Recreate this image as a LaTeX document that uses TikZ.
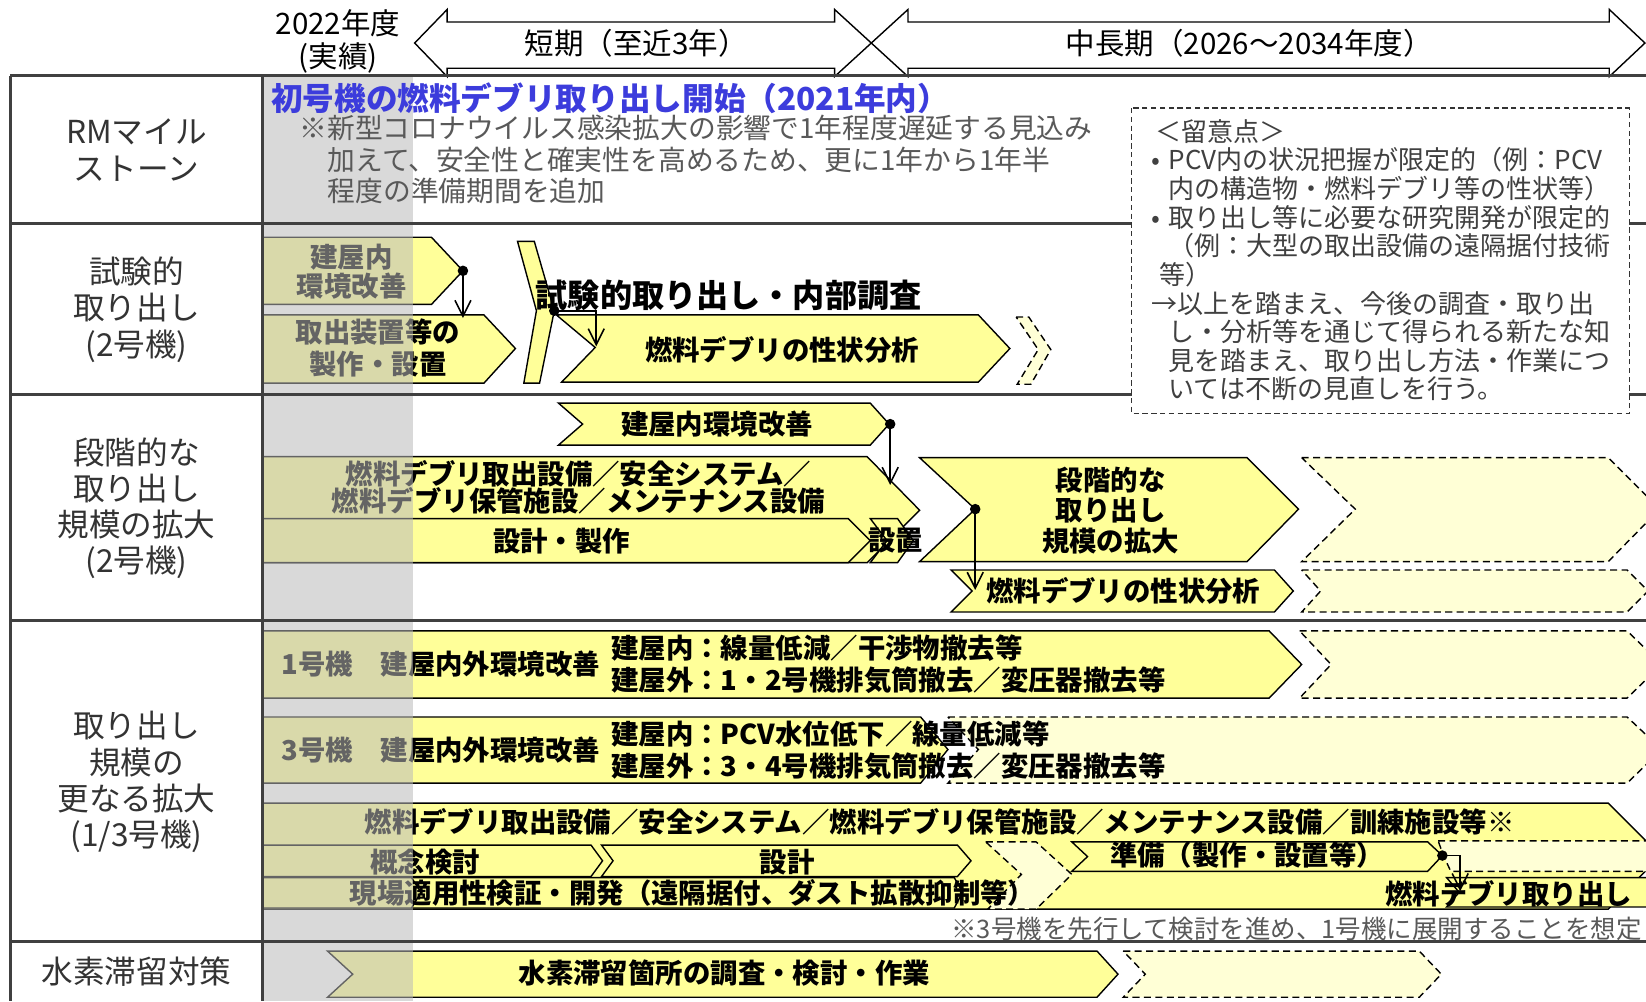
\documentclass[tikz,border=0pt]{standalone}
\usepackage{fontspec}
\setmainfont{Noto Sans CJK JP}
\usetikzlibrary{arrows.meta}

\definecolor{baryellow}{RGB}{255,255,153}
\definecolor{planyellow}{RGB}{255,255,214}
\definecolor{pastgray}{RGB}{185,185,185}
\definecolor{titleblue}{RGB}{60,60,220}
\definecolor{notegray}{RGB}{89,89,89}
\definecolor{rulegray}{RGB}{64,64,64}

\tikzset{
  bar/.style={draw=black, fill=baryellow, line width=0.8pt},
  planbar/.style={draw=black, fill=planyellow, line width=0.8pt, dash pattern=on 4pt off 2.5pt},
  bartext/.style={inner sep=0pt, font=\fontsize{15.6}{18}\selectfont\bfseries},
  rowlabel/.style={align=center, text=black!80, font=\fontsize{18}{20.6}\selectfont},
  hdrtext/.style={font=\fontsize{16.8}{19.5}\selectfont},
  hdrarrow/.style={draw=black, fill=white, line width=0.8pt},
  notetext/.style={anchor=west, inner sep=0pt, text=notegray, font=\fontsize{15.8}{18}\selectfont},
  caveat/.style={anchor=west, inner sep=0pt, text=black!75, font=\fontsize{14.8}{16}\selectfont},
  flow/.style={-{Straight Barb[length=3.2mm,width=3.2mm]}, line width=0.9pt},
  tablerule/.style={draw=rulegray, line width=1.4pt},
}

\begin{document}
\begin{tikzpicture}[x=0.021cm, y=-0.021cm]
\useasboundingbox (0,0) rectangle (1568,954);
\clip (0,0) rectangle (1568,954);
\fill[white] (0,0) rectangle (1568,954);

% header
\draw[hdrarrow] (395,41) -- (426,9) -- (426,21) -- (795,21) -- (795,9) -- (830,41) -- (795,73) -- (795,65) -- (426,65) -- (426,73) -- cycle;
\draw[hdrarrow] (830,41) -- (865,9) -- (865,21) -- (1533,21) -- (1533,9) -- (1567,41) -- (1533,73) -- (1533,65) -- (865,65) -- (865,73) -- cycle;
\node[hdrtext] (yr) at (322,22) {2022年度};
\node[hdrtext] (yrsub) at (322,55) {(実績)};
\node[hdrtext] (short) at (606,41) {短期（至近3年）};
\node[hdrtext] (long) at (1190,41) {中長期（2026～2034年度）};

% row labels
\node[rowlabel] (lab1) at (130,143) {RMマイル\\ストーン};
\node[rowlabel] (lab2) at (130,295) {試験的\\取り出し\\(2号機)};
\node[rowlabel] (lab3) at (130,484) {段階的な\\取り出し\\規模の拡大\\(2号機)};
\node[rowlabel] (lab4) at (130,745) {取り出し\\規模の\\更なる拡大\\(1/3号機)};
\node[rowlabel] (lab5) at (130,926) {水素滞留対策};

% trial retrieval (unit 2)
\draw[bar] (250,226) -- (411,226) -- (441,258) -- (411,290) -- (250,290) -- cycle;
\draw[bar] (250,300) -- (461,300) -- (491,332) -- (461,365) -- (250,365) -- cycle;
\draw[bar] (493,230) -- (509,230) -- (528,296) -- (514,365) -- (499,365) -- (511,296) -- cycle;
\draw[bar] (530,300) -- (932,300) -- (962,332) -- (932,364) -- (535,364) -- (567,331) -- cycle;
\draw[planbar] (968,302) -- (980,302) -- (1001,333) -- (982,366) -- (969,366) -- (989,333) -- cycle;
\node[bartext] (envA1) at (335,245) {建屋内};
\node[bartext] (envA2) at (335,273) {環境改善};
\node[bartext] (devB1) at (360,316) {取出装置等の};
\node[bartext] (devB2) at (360,347) {製作・設置};
\node[bartext] (anaC) at (745,333) {燃料デブリの性状分析};
\node[anchor=west, inner sep=0pt, font=\fontsize{18.3}{20}\selectfont\bfseries] (trial) at (510,281) {試験的取り出し・内部調査};

% stepwise expansion (unit 2)
\draw[bar] (250,435) -- (826,435) -- (876,486) -- (826,536) -- (250,536) -- cycle;
\draw[bar] (250,494) -- (808,494) -- (829,515) -- (808,536) -- (250,536) -- cycle;
\draw[bar] (829,494) -- (855,494) -- (870,515) -- (855,536) -- (829,536) -- (845,515) -- cycle;
\draw[bar] (532,384) -- (829,384) -- (847,404) -- (829,424) -- (532,424) -- (555,404) -- cycle;
\draw[bar] (876,436) -- (1188,436) -- (1237,485) -- (1188,535) -- (876,535) -- (929,485) -- cycle;
\draw[bar] (906,543) -- (1214,543) -- (1232,563) -- (1214,583) -- (906,583) -- (926,563) -- cycle;
\draw[planbar] (1240,436) -- (1532,436) -- (1581,485) -- (1532,535) -- (1240,535) -- (1291,485) -- cycle;
\draw[planbar] (1240,543) -- (1550,543) -- (1570,563) -- (1550,583) -- (1240,583) -- (1258,563) -- cycle;
\node[bartext] (envD) at (683,404) {建屋内環境改善};
\node[bartext] (eqE1) at (551,451) {燃料デブリ取出設備／安全システム／};
\node[bartext] (eqE2) at (551,477) {燃料デブリ保管施設／メンテナンス設備};
\node[bartext] (desF) at (535,515) {設計・製作};
\node[bartext] (instF) at (853,515) {設置};
\node[bartext] (stepG1) at (1058,457) {段階的な};
\node[bartext] (stepG2) at (1058,486) {取り出し};
\node[bartext] (stepG3) at (1058,515) {規模の拡大};
\node[bartext] (anaH) at (1070,563) {燃料デブリの性状分析};

% further expansion (units 1/3)
\draw[bar] (250,601) -- (1209,601) -- (1240,633) -- (1209,665) -- (250,665) -- cycle;
\draw[planbar] (1238,601) -- (1550,601) -- (1583,633) -- (1550,665) -- (1238,665) -- (1268,633) -- cycle;
\draw[bar] (250,683) -- (877,683) -- (903,714) -- (877,746) -- (250,746) -- cycle;
\draw[planbar] (903,683) -- (1550,683) -- (1583,714) -- (1550,746) -- (903,746) -- (932,714) -- cycle;
\draw[bar] (250,765) -- (1532,765) -- (1582,815) -- (1532,866) -- (250,866) -- cycle;
\draw[bar] (250,805) -- (563,805) -- (574,820) -- (563,835) -- (250,835) -- cycle;
\draw[bar] (573,805) -- (912,805) -- (925,820) -- (912,835) -- (573,835) -- (584,820) -- cycle;
\draw[bar] (250,836) -- (909,836) -- (917,850) -- (909,865) -- (250,865) -- cycle;
\draw[line width=0.8pt] (392,836) -- (401,850) -- (392,865);
\draw[planbar] (939,802) -- (987,802) -- (1021,833) -- (987,866) -- (941,866) -- (973,833) -- cycle;
\draw[planbar] (1370,801) -- (1600,801) -- (1600,830) -- (1382,830) -- (1375,815) -- cycle;
\draw[bar] (1021,802) -- (1360,802) -- (1374,815) -- (1360,830) -- (1021,830) -- (1036,816) -- cycle;
\draw[bar] (1378,836) -- (1600,836) -- (1600,864) -- (1378,864) -- (1390,850) -- cycle;
\node[bartext, anchor=west] (u1env) at (268,633) {1号機\hspace{1em}建屋内外環境改善};
\node[bartext, anchor=west] (u1in) at (582,617) {建屋内：線量低減／干渉物撤去等};
\node[bartext, anchor=west] (u1out) at (582,648) {建屋外：1・2号機排気筒撤去／変圧器撤去等};
\node[bartext, anchor=west] (u3env) at (268,715) {3号機\hspace{1em}建屋内外環境改善};
\node[bartext, anchor=west] (u3in) at (582,699) {建屋内：PCV水位低下／線量低減等};
\node[bartext, anchor=west] (u3out) at (582,730) {建屋外：3・4号機排気筒撤去／変圧器撤去等};
\node[bartext, anchor=west] (eqO) at (347,783) {燃料デブリ取出設備／安全システム／燃料デブリ保管施設／メンテナンス設備／訓練施設等※};
\node[bartext] (conP) at (405,821) {概念検討};
\node[bartext] (desQ) at (750,821) {設計};
\node[bartext, anchor=west] (fieldR) at (333,851) {現場適用性検証・開発（遠隔据付、ダスト拡散抑制等）};
\node[bartext] (prepT) at (1188,815) {準備（製作・設置等）};
\node[bartext, anchor=east] (retU) at (1555,851) {燃料デブリ取り出し};
\node[anchor=east, inner sep=0pt, text=notegray, font=\fontsize{14.5}{16}\selectfont] (foot) at (1564,885) {※3号機を先行して検討を進め、1号機に展開することを想定};

% hydrogen
\draw[bar] (312,906) -- (1045,906) -- (1065,928) -- (1045,950) -- (312,950) -- (336,928) -- cycle;
\draw[planbar] (1070,906) -- (1352,906) -- (1373,928) -- (1352,950) -- (1070,950) -- (1091,928) -- cycle;
\node[bartext] (h2W) at (690,927) {水素滞留箇所の調査・検討・作業};

% results column
\fill[pastgray, opacity=0.54] (250,72) rectangle (393,954);

% table
\draw[tablerule] (10,72) -- (1568,72);
\draw[tablerule] (10,213) -- (1568,213);
\draw[tablerule] (10,376) -- (1568,376);
\draw[tablerule] (10,591) -- (1568,591);
\draw[tablerule] (10,897) -- (1568,897);
\draw[tablerule] (10,72) -- (10,954);
\draw[tablerule] (250,72) -- (250,954);

% milestone
\node[anchor=west, inner sep=0pt, text=titleblue, font=\fontsize{18}{20}\selectfont\bfseries] (rmtitle) at (258,94) {初号機の燃料デブリ取り出し開始（2021年内）};
\node[notetext] (rmnote1) at (285,122) {※新型コロナウイルス感染拡大の影響で1年程度遅延する見込み};
\node[notetext] (rmnote2) at (312,152) {加えて、安全性と確実性を高めるため、更に1年から1年半};
\node[notetext] (rmnote3) at (312,182) {程度の準備期間を追加};

% caveats
\draw[draw=black!80, fill=white, line width=0.8pt, dash pattern=on 3pt off 2pt] (1078,103) rectangle (1552,394);
\foreach \lx/\ln [count=\i] in {1100/＜留意点＞, 1097/•\hspace{0.3em}PCV内の状況把握が限定的（例：PCV, 1113/内の構造物・燃料デブリ等の性状等）, 1097/•\hspace{0.3em}取り出し等に必要な研究開発が限定的, 1113/（例：大型の取出設備の遠隔据付技術, 1104/等）, 1097/→以上を踏まえ、今後の調査・取り出, 1113/し・分析等を通じて得られる新たな知, 1113/見を踏まえ、取り出し方法・作業につ, 1113/いては不断の見直しを行う。}
  \node[caveat] (cav\i) at ({\lx},{125+27.3*(\i-1)}) {\ln};

% connectors
\coordinate (jA) at (441,258);
\coordinate (jAend) at (441,303);
\coordinate (jB) at (528,296);
\coordinate (jBturn) at (568,296);
\coordinate (jBend) at (568,330);
\coordinate (jD) at (848,404);
\coordinate (jDend) at (848,462);
\coordinate (jG) at (929,485);
\coordinate (jGend) at (929,562);
\coordinate (jT) at (1374,815);
\coordinate (jTturn) at (1391,815);
\coordinate (jTend) at (1391,849);
\draw[flow] (jA) -- (jAend);
\draw[flow] (jB) -- (jBturn) -- (jBend);
\draw[flow] (jD) -- (jDend);
\draw[flow] (jG) -- (jGend);
\draw[flow] (jT) -- (jTturn) -- (jTend);
\foreach \j in {jA,jB,jD,jG,jT}
  \fill (\j) circle[radius=3pt];

\end{tikzpicture}
\end{document}
